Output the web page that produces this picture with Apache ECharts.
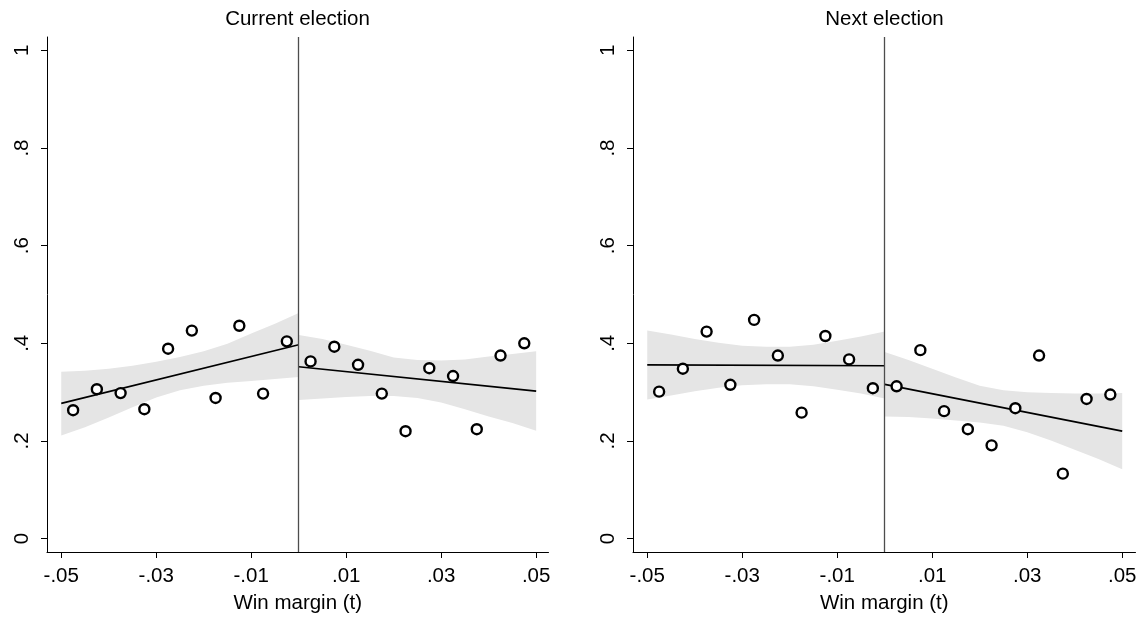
<!DOCTYPE html>
<html>
<head>
<meta charset="utf-8">
<script src="https://cdn.jsdelivr.net/npm/echarts@6/dist/echarts.min.js"></script>
<style>
html,body{margin:0;padding:0;background:#fff;}
#chart{width:1146px;height:619px;}
</style>
</head>
<body>
<div id="chart"></div>
<script>
// ---- Data ----
const panelTitles = ['Current election', 'Next election'];
const xAxisName = 'Win margin (t)';
const xTicks = [-0.05, -0.03, -0.01, 0.01, 0.03, 0.05];
const yTicks = [0, 0.2, 0.4, 0.6, 0.8, 1];

// bin centres
const binsLeft  = [-0.0475, -0.0425, -0.0375, -0.0325, -0.0275, -0.0225, -0.0175, -0.0125, -0.0075, -0.0025];
const binsRight = [0.0025, 0.0075, 0.0125, 0.0175, 0.0225, 0.0275, 0.0325, 0.0375, 0.0425, 0.0475];

// Current election: binned means
const curLeftPts  = [0.263, 0.306, 0.298, 0.265, 0.389, 0.426, 0.288, 0.436, 0.297, 0.404];
const curRightPts = [0.363, 0.393, 0.356, 0.297, 0.220, 0.349, 0.333, 0.224, 0.375, 0.400];
// Next election: binned means
const nextLeftPts  = [0.301, 0.348, 0.424, 0.315, 0.448, 0.375, 0.258, 0.415, 0.367, 0.308];
const nextRightPts = [0.312, 0.386, 0.261, 0.224, 0.191, 0.267, 0.375, 0.133, 0.286, 0.295];

// fitted lines (endpoints)
const curLeftFit   = [[-0.05, 0.277], [0, 0.397]];
const curRightFit  = [[0, 0.352], [0.05, 0.302]];
const nextLeftFit  = [[-0.05, 0.356], [0, 0.354]];
const nextRightFit = [[0, 0.316], [0.05, 0.220]];

// confidence bands
const bandXLeft  = [-0.05, -0.045, -0.04, -0.035, -0.03, -0.025, -0.02, -0.015, -0.01, -0.005, 0];
const bandXRight = [0, 0.005, 0.01, 0.015, 0.02, 0.025, 0.03, 0.035, 0.04, 0.045, 0.05];

const curLeftUp  = [0.342, 0.344, 0.348, 0.354, 0.362, 0.372, 0.384, 0.399, 0.420, 0.440, 0.462];
const curLeftLo  = [0.211, 0.228, 0.248, 0.269, 0.289, 0.304, 0.313, 0.319, 0.323, 0.327, 0.331];
const curRightUp = [0.417, 0.409, 0.397, 0.385, 0.371, 0.366, 0.365, 0.367, 0.373, 0.378, 0.3835];
const curRightLo = [0.284, 0.287, 0.290, 0.292, 0.292, 0.288, 0.279, 0.265, 0.250, 0.237, 0.221];

const nextLeftUp  = [0.426, 0.418, 0.409, 0.401, 0.395, 0.393, 0.393, 0.397, 0.405, 0.414, 0.424];
const nextLeftLo  = [0.285, 0.293, 0.302, 0.309, 0.314, 0.316, 0.316, 0.312, 0.305, 0.297, 0.287];
const nextRightUp = [0.382, 0.366, 0.348, 0.330, 0.313, 0.304, 0.300, 0.298, 0.297, 0.297, 0.298];
const nextRightLo = [0.250, 0.249, 0.246, 0.242, 0.238, 0.231, 0.218, 0.201, 0.182, 0.163, 0.142];

// ---- Chart ----
const FONT = 'Liberation Sans, Arial, sans-serif';
const FS = 20.5;
const BAND = '#e5e5e5';

function fmtTick(v) {
  const r = Math.round(v * 100) / 100;
  return String(r).replace(/^(-?)0\./, '$1.');
}

function bandSeries(idx, xs, lo, up) {
  return {
    type: 'custom',
    xAxisIndex: idx, yAxisIndex: idx,
    silent: true,
    z: 1,
    data: xs.map((x, i) => [x, lo[i], up[i]]),
    encode: { x: 0, y: [1, 2] },
    renderItem: function (params, api) {
      if (params.dataIndex !== 0) return null;
      const pts = [];
      for (let i = 0; i < xs.length; i++) pts.push(api.coord([xs[i], up[i]]));
      for (let i = xs.length - 1; i >= 0; i--) pts.push(api.coord([xs[i], lo[i]]));
      return { type: 'polygon', shape: { points: pts }, style: { fill: BAND, stroke: null } };
    }
  };
}
function fitSeries(idx, pts) {
  return {
    type: 'line', xAxisIndex: idx, yAxisIndex: idx, data: pts,
    symbol: 'none', silent: true, z: 3,
    lineStyle: { color: '#000', width: 1.7 }
  };
}
function ptSeries(idx, xs, ys) {
  return {
    type: 'scatter', xAxisIndex: idx, yAxisIndex: idx,
    data: xs.map((x, i) => [x, ys[i]]),
    symbol: 'circle', symbolSize: 10, z: 4, silent: true,
    itemStyle: { color: '#fff', borderColor: '#000', borderWidth: 2.4, opacity: 1 }
  };
}
function cutSeries(idx) {
  return {
    type: 'line', xAxisIndex: idx, yAxisIndex: idx, data: [], z: 2,
    markLine: {
      silent: true, symbol: 'none', animation: false,
      label: { show: false },
      lineStyle: { color: '#4d4d4d', width: 1.3, type: 'solid' },
      data: [{ xAxis: 0 }]
    }
  };
}

const grids = [
  { left: 47, top: 37, width: 501.5, height: 521 },
  { left: 633, top: 37, width: 502.5, height: 521 }
];
const xMins = [-0.0530, -0.0530];
const xMaxs = [0.0526, 0.0528];

const xAxes = grids.map((g, i) => ({
  gridIndex: i, type: 'value', min: xMins[i], max: xMaxs[i],
  axisLine: { show: true, onZero: false, lineStyle: { color: '#000', width: 1 } },
  axisTick: { show: true, length: 6, customValues: xTicks, lineStyle: { color: '#000', width: 1 } },
  axisLabel: { customValues: xTicks, formatter: fmtTick, fontSize: FS, fontFamily: FONT, color: '#000', margin: 14 },
  splitLine: { show: false },
  name: xAxisName, nameLocation: 'middle', nameGap: 41,
  nameTextStyle: { fontSize: FS, fontFamily: FONT, color: '#000' }
}));
const yAxes = grids.map((g, i) => ({
  gridIndex: i, type: 'value', min: -0.0275, max: 1.0275,
  axisLine: { show: true, onZero: false, lineStyle: { color: '#000', width: 1 } },
  axisTick: { show: true, length: 6, customValues: yTicks, lineStyle: { color: '#000', width: 1 } },
  axisLabel: { customValues: yTicks, formatter: fmtTick, rotate: 90, fontSize: FS, fontFamily: FONT, color: '#000', margin: 14 },
  splitLine: { show: false }
}));

const chart = echarts.init(document.getElementById('chart'), null, { renderer: 'canvas' });
chart.setOption({
  animation: false,
  backgroundColor: '#fff',
  title: [
    { text: panelTitles[0], left: 297.5, top: 9, textAlign: 'center', padding: 0,
      textStyle: { fontSize: FS, fontWeight: 'normal', fontFamily: FONT, color: '#000' } },
    { text: panelTitles[1], left: 884.5, top: 9, textAlign: 'center', padding: 0,
      textStyle: { fontSize: FS, fontWeight: 'normal', fontFamily: FONT, color: '#000' } }
  ],
  grid: grids,
  xAxis: xAxes,
  yAxis: yAxes,
  series: [
    bandSeries(0, bandXLeft, curLeftLo, curLeftUp),
    bandSeries(0, bandXRight, curRightLo, curRightUp),
    bandSeries(1, bandXLeft, nextLeftLo, nextLeftUp),
    bandSeries(1, bandXRight, nextRightLo, nextRightUp),
    cutSeries(0), cutSeries(1),
    fitSeries(0, curLeftFit), fitSeries(0, curRightFit),
    fitSeries(1, nextLeftFit), fitSeries(1, nextRightFit),
    ptSeries(0, binsLeft, curLeftPts), ptSeries(0, binsRight, curRightPts),
    ptSeries(1, binsLeft, nextLeftPts), ptSeries(1, binsRight, nextRightPts)
  ]
});
</script>
</body>
</html>
